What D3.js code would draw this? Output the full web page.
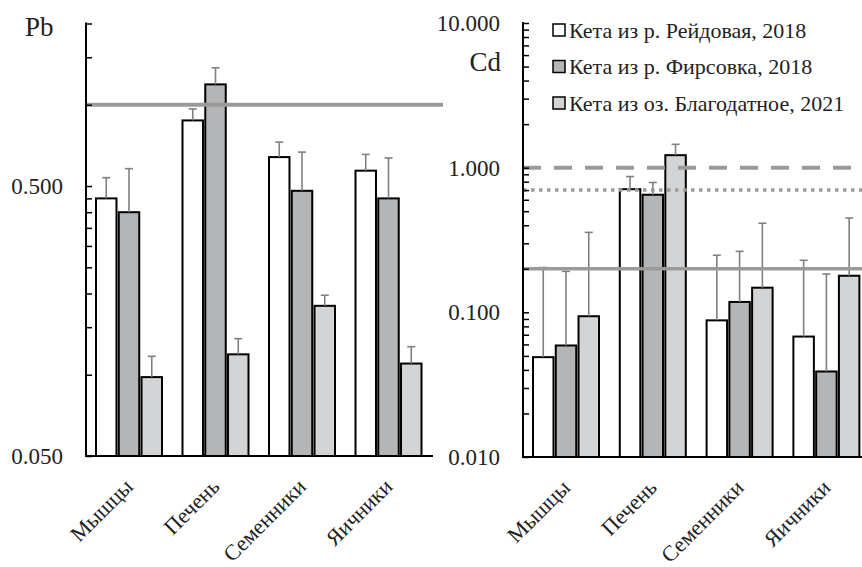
<!DOCTYPE html>
<html>
<head>
<meta charset="utf-8">
<script src="https://cdn.jsdelivr.net/npm/d3@7"></script>
<style>
  body { margin: 0; background: #fff; }
  svg text { font-family: "Liberation Serif", "Times New Roman", serif; fill: #222; }
</style>
</head>
<body>
<div id="chart"></div>
<script>
const width = 862;
const height = 567;

// categories and series
const organs = ["Мышцы", "Печень", "Семенники", "Яичники"];
const seriesNames = ["Кета из р. Рейдовая, 2018", "Кета из р. Фирсовка, 2018", "Кета из оз. Благодатное, 2021"];
const seriesFill = ["#ffffff", "#b4b5b7", "#d3d4d6"];

// Pb, per series (mean and upper error)
const pbReydovaya = [0.45, 0.875, 0.64, 0.57];
const pbFirsovka = [0.40, 1.19, 0.48, 0.45];
const pbBlagodatnoe = [0.098, 0.119, 0.18, 0.11];
const pbErrReydovaya = [0.087, 0.09, 0.087, 0.085];
const pbErrFirsovka = [0.18, 0.18, 0.188, 0.185];
const pbErrBlagodatnoe = [0.019, 0.017, 0.017, 0.017];

// Cd, per series
const cdReydovaya = [0.049, 0.71, 0.088, 0.068];
const cdFirsovka = [0.059, 0.65, 0.118, 0.039];
const cdBlagodatnoe = [0.094, 1.22, 0.148, 0.179];
const cdErrReydovaya = [0.155, 0.158, 0.16, 0.161];
const cdErrFirsovka = [0.133, 0.14, 0.146, 0.145];
const cdErrBlagodatnoe = [0.263, 0.23, 0.265, 0.27];

// limit lines
const pbLimits = [1.0];
const cdLimits = [1.0, 0.7, 0.2];

// tick values
const pbMajorTicks = [0.05, 0.5];
const pbMinorTicks = [0.1, 0.15, 0.2, 0.25, 0.3, 0.35, 0.4, 0.45, 1.0, 1.5, 2.0];
const cdMajorTicks = [0.01, 0.1, 1, 10];
const cdMinorTicks = [0.02, 0.03, 0.04, 0.05, 0.06, 0.07, 0.08, 0.09,
                      0.2, 0.3, 0.4, 0.5, 0.6, 0.7, 0.8, 0.9,
                      2, 3, 4, 5, 6, 7, 8, 9];

const svg = d3.select("#chart").append("svg")
    .attr("width", width)
    .attr("height", height)
    .attr("viewBox", [0, 0, width, height]);

function buildRows(values, errs) {
  return organs.map((o, i) => ({
    organ: o,
    bars: seriesNames.map((s, j) => ({ series: s, idx: j, value: values[j][i], err: errs[j][i] }))
  }));
}

function drawPanel(opt) {
  const g = svg.append("g");
  const x0 = d3.scaleBand().domain(organs).range([opt.left, opt.left + opt.bandW * 4]);
  const x1 = d3.scaleBand().domain(seriesNames).range([10, 76]).paddingInner(0.1);
  const y = d3.scaleLog().domain(opt.domain).range([opt.bottom, opt.top]);
  const rows = buildRows(opt.values, opt.errs);

  // bars
  const grp = g.selectAll("g.grp").data(rows).enter().append("g")
      .attr("transform", d => `translate(${x0(d.organ)},0)`);
  grp.selectAll("rect").data(d => d.bars).enter().append("rect")
      .attr("x", d => x1(d.series))
      .attr("y", d => y(d.value))
      .attr("width", x1.bandwidth())
      .attr("height", d => opt.bottom - y(d.value))
      .attr("fill", d => seriesFill[d.idx])
      .attr("stroke", "#000")
      .attr("stroke-width", 2);

  // error bars (upper only)
  const eb = grp.selectAll("g.err").data(d => d.bars).enter().append("g")
      .attr("stroke", "#808080")
      .attr("stroke-width", 1.6);
  eb.append("line")
      .attr("x1", d => x1(d.series) + x1.bandwidth() / 2)
      .attr("x2", d => x1(d.series) + x1.bandwidth() / 2)
      .attr("y1", d => y(d.value))
      .attr("y2", d => y(d.value + d.err));
  eb.append("line")
      .attr("x1", d => x1(d.series) + x1.bandwidth() / 2 - 4)
      .attr("x2", d => x1(d.series) + x1.bandwidth() / 2 + 4)
      .attr("y1", d => y(d.value + d.err))
      .attr("y2", d => y(d.value + d.err));

  // limit lines
  opt.limits.forEach((v, i) => {
    const st = opt.limitStyle[i];
    g.append("line")
        .attr("x1", opt.left)
        .attr("x2", opt.limitRight)
        .attr("y1", y(v))
        .attr("y2", y(v))
        .attr("stroke", "#9a9a9a")
        .attr("stroke-width", st.w)
        .attr("stroke-dasharray", st.dash);
  });

  // y axis (ticks inward)
  const yAxis = d3.axisRight(y)
      .tickValues(opt.major.concat(opt.minor))
      .tickSize(6)
      .tickFormat("");
  const ya = g.append("g")
      .attr("transform", `translate(${opt.left},0)`)
      .call(yAxis);
  ya.select(".domain").remove();
  ya.selectAll(".tick line").attr("stroke", "#000").attr("stroke-width", 1.5);
  g.append("line")
      .attr("x1", opt.left).attr("x2", opt.left)
      .attr("y1", opt.top - 1).attr("y2", opt.bottom + 1)
      .attr("stroke", "#000").attr("stroke-width", 2);

  g.selectAll("text.ytl").data(opt.major).enter().append("text")
      .attr("x", opt.left - 23)
      .attr("y", d => y(d))
      .attr("dy", "0.35em")
      .attr("text-anchor", "end")
      .style("font-size", "23px")
      .text(d => d3.format(".3f")(d));

  // x axis
  g.append("line")
      .attr("x1", opt.left - 1).attr("x2", opt.axisRight)
      .attr("y1", opt.bottom).attr("y2", opt.bottom)
      .attr("stroke", "#000").attr("stroke-width", 2);

  g.selectAll("text.xl").data(organs).enter().append("text")
      .attr("text-anchor", "end")
      .attr("transform", d => `translate(${x0(d) + x0.bandwidth() / 2 + 5},${opt.bottom + 32}) rotate(-45)`)
      .style("font-size", "22px")
      .text(d => d);

  // element label
  g.append("text")
      .attr("x", opt.labelX)
      .attr("y", opt.labelY)
      .attr("text-anchor", opt.labelAnchor)
      .style("font-size", "27px")
      .text(opt.label);
}

drawPanel({
  left: 86, bandW: 86.5, top: 23.5, bottom: 456, axisRight: 433, limitRight: 443,
  domain: [0.05, 2],
  values: [pbReydovaya, pbFirsovka, pbBlagodatnoe],
  errs: [pbErrReydovaya, pbErrFirsovka, pbErrBlagodatnoe],
  limits: pbLimits,
  limitStyle: [{ w: 4, dash: null }],
  major: pbMajorTicks, minor: pbMinorTicks,
  label: "Pb", labelX: 25, labelY: 36, labelAnchor: "start"
});

drawPanel({
  left: 523, bandW: 86.8, top: 23, bottom: 457, axisRight: 862, limitRight: 862,
  domain: [0.01, 10],
  values: [cdReydovaya, cdFirsovka, cdBlagodatnoe],
  errs: [cdErrReydovaya, cdErrFirsovka, cdErrBlagodatnoe],
  limits: cdLimits,
  limitStyle: [{ w: 4, dash: "18,13" }, { w: 3.5, dash: "3.5,4.5" }, { w: 3.5, dash: null }],
  major: cdMajorTicks, minor: cdMinorTicks,
  label: "Cd", labelX: 501, labelY: 71, labelAnchor: "end"
});

// legend
const legend = svg.append("g").attr("transform", "translate(553,0)");
const li = legend.selectAll("g").data(seriesNames).enter().append("g")
    .attr("transform", (d, i) => `translate(0,${30 + i * 36.5})`);
li.append("rect")
    .attr("x", 0).attr("y", -6)
    .attr("width", 12).attr("height", 12)
    .attr("fill", (d, i) => seriesFill[i])
    .attr("stroke", "#000")
    .attr("stroke-width", 1.5);
li.append("text")
    .attr("x", 16)
    .attr("y", 0)
    .attr("dy", "0.35em")
    .style("font-size", "22px")
    .text(d => d);
</script>
</body>
</html>
